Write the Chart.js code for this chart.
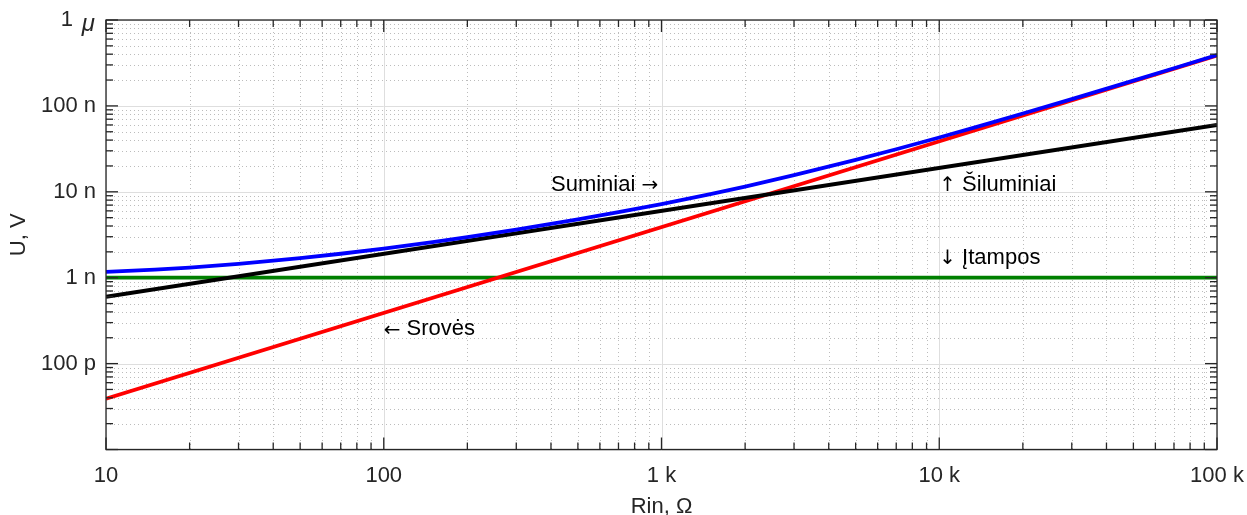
<!DOCTYPE html>
<html>
<head>
<meta charset="utf-8">
<script src="https://cdn.jsdelivr.net/npm/chart.js@4"></script>
<style>
  html, body { margin: 0; padding: 0; background: #fff; }
  #wrap { width: 1247px; height: 515px; }
</style>
</head>
<body>
<div id="wrap"><canvas id="noiseChart" width="1247" height="515"></canvas></div>
<script>
// Rin, Ω
const rinLine = [10, 100000];
const rinCurve = [10, 15, 20, 30, 50, 70, 100, 150, 200, 300, 500, 700,
    1000, 1500, 2000, 3000, 5000, 7000, 10000, 15000, 20000, 30000, 50000, 70000, 100000];

// U, V
const itampos = [1.0e-9, 1.0e-9];
const sroves = [3.9e-11, 3.85e-7];
const siluminiai = [6.0e-10, 6.0e-8];
const suminiai = [1.17e-9, 1.24e-9, 1.31e-9, 1.45e-9, 1.69e-9, 1.9e-9, 2.18e-9, 2.6e-9, 2.97e-9,
    3.63e-9, 4.77e-9, 5.79e-9, 7.2e-9, 9.41e-9, 1.15e-8, 1.56e-8, 2.35e-8, 3.13e-8, 4.29e-8,
    6.23e-8, 8.16e-8, 1.2e-7, 1.97e-7, 2.74e-7, 3.9e-7];

const xTickVals = [10, 100, 1000, 10000, 100000];
const xTickText = ['10', '100', '1 k', '10 k', '100 k'];
const yTickVals = [1e-6, 1e-7, 1e-8, 1e-9, 1e-10];
const yTickText = ['1', '100 n', '10 n', '1 n', '100 p'];

// label text plus an arrow drawn before or after it
const notes = [
    { x: 400, y: 1.2e-8, text: 'Suminiai', arrow: '\u2192', after: true },
    { x: 10000, y: 1.2e-8, text: '\u0160iluminiai', arrow: '\u2191', after: false },
    { x: 10000, y: 1.7e-9, text: '\u012Etampos', arrow: '\u2193', after: false },
    { x: 100, y: 2.5e-10, text: 'Srov\u0117s', arrow: '\u2190', after: false }
];

const FONT = '"Liberation Sans", Arial, sans-serif';
const ARROW_FONT = '"DejaVu Sans", sans-serif';
const INK = '#262626';

function toPoints(xs, ys) {
    return xs.map((x, i) => ({ x: x, y: ys[i] }));
}

function minorValues(lo, hi) {
    const out = [];
    for (let d = lo; d < hi; d *= 10) {
        for (let m = 2; m <= 9; m++) out.push(d * m);
    }
    return out;
}

const axesPlugin = {
    id: 'axesPlugin',
    beforeDatasetsDraw(chart) {
        const { ctx, chartArea: a, scales: { x, y } } = chart;
        ctx.save();
        // minor grid, dotted
        ctx.strokeStyle = '#bcbcbc';
        ctx.lineWidth = 1;
        ctx.setLineDash([1, 3]);
        minorValues(10, 100000).forEach(v => {
            const px = Math.round(x.getPixelForValue(v)) + 0.5;
            ctx.beginPath(); ctx.moveTo(px, a.top); ctx.lineTo(px, a.bottom); ctx.stroke();
        });
        minorValues(1e-11, 1e-6).forEach(v => {
            const py = Math.round(y.getPixelForValue(v)) + 0.5;
            ctx.beginPath(); ctx.moveTo(a.left, py); ctx.lineTo(a.right, py); ctx.stroke();
        });
        // major grid
        ctx.setLineDash([]);
        ctx.strokeStyle = '#dedede';
        xTickVals.forEach(v => {
            const px = Math.round(x.getPixelForValue(v)) + 0.5;
            ctx.beginPath(); ctx.moveTo(px, a.top); ctx.lineTo(px, a.bottom); ctx.stroke();
        });
        yTickVals.concat([1e-11]).forEach(v => {
            const py = Math.round(y.getPixelForValue(v)) + 0.5;
            ctx.beginPath(); ctx.moveTo(a.left, py); ctx.lineTo(a.right, py); ctx.stroke();
        });
        ctx.restore();
    },
    afterDatasetsDraw(chart) {
        const { ctx, chartArea: a, scales: { x, y } } = chart;
        ctx.save();
        // frame
        ctx.strokeStyle = INK;
        ctx.lineWidth = 1.3;
        ctx.strokeRect(a.left, a.top, a.right - a.left, a.bottom - a.top);

        // ticks pointing inwards on all four sides
        const tick = (x1, y1, x2, y2) => {
            ctx.beginPath(); ctx.moveTo(x1, y1); ctx.lineTo(x2, y2); ctx.stroke();
        };
        xTickVals.forEach(v => {
            const px = x.getPixelForValue(v);
            tick(px, a.bottom, px, a.bottom - 12);
            tick(px, a.top, px, a.top + 12);
        });
        minorValues(10, 100000).forEach(v => {
            const px = x.getPixelForValue(v);
            tick(px, a.bottom, px, a.bottom - 7);
            tick(px, a.top, px, a.top + 7);
        });
        yTickVals.concat([1e-11]).forEach(v => {
            const py = y.getPixelForValue(v);
            tick(a.left, py, a.left + 12, py);
            tick(a.right, py, a.right - 12, py);
        });
        minorValues(1e-11, 1e-6).forEach(v => {
            const py = y.getPixelForValue(v);
            tick(a.left, py, a.left + 7, py);
            tick(a.right, py, a.right - 7, py);
        });

        // tick labels
        ctx.fillStyle = INK;
        ctx.font = '22px ' + FONT;
        ctx.textBaseline = 'middle';
        ctx.textAlign = 'center';
        xTickVals.forEach((v, i) => {
            ctx.fillText(xTickText[i], x.getPixelForValue(v), a.bottom + 26);
        });
        ctx.textAlign = 'right';
        yTickVals.forEach((v, i) => {
            const py = y.getPixelForValue(v);
            if (v === 1e-6) {
                ctx.font = 'italic 24px ' + FONT;
                ctx.fillText('\u03BC', a.left - 11, py + 4);
                ctx.font = '22px ' + FONT;
                ctx.fillText(yTickText[i], a.left - 33, py);
            } else {
                ctx.fillText(yTickText[i], a.left - 10, py);
            }
        });

        // axis titles
        ctx.textAlign = 'center';
        ctx.fillText('Rin, \u03A9', x.getPixelForValue(1000), a.bottom + 57);
        ctx.save();
        ctx.translate(19, (a.top + a.bottom) / 2);
        ctx.rotate(-Math.PI / 2);
        ctx.fillText('U, V', 0, 0);
        ctx.restore();

        // curve annotations
        ctx.textAlign = 'left';
        ctx.fillStyle = '#000';
        notes.forEach(n => {
            let px = x.getPixelForValue(n.x);
            const py = y.getPixelForValue(n.y);
            const drawArrow = () => {
                ctx.font = '20px ' + ARROW_FONT;
                ctx.fillText(n.arrow, px, py + 1);
                px += ctx.measureText(n.arrow).width;
            };
            const drawText = s => {
                ctx.font = '22px ' + FONT;
                ctx.fillText(s, px, py);
                px += ctx.measureText(s).width;
            };
            if (n.after) {
                drawText(n.text + ' ');
                drawArrow();
            } else {
                drawArrow();
                drawText(' ' + n.text);
            }
        });
        ctx.restore();
    }
};

new Chart(document.getElementById('noiseChart'), {
    type: 'line',
    data: {
        datasets: [
            { label: 'Suminiai', data: toPoints(rinCurve, suminiai), borderColor: '#0000ff', order: 0 },
            { label: 'Šiluminiai', data: toPoints(rinLine, siluminiai), borderColor: '#000000', order: 1 },
            { label: 'Srovės', data: toPoints(rinLine, sroves), borderColor: '#ff0000', order: 2 },
            { label: 'Įtampos', data: toPoints(rinLine, itampos), borderColor: '#008000', order: 3 }
        ]
    },
    options: {
        responsive: false,
        animation: false,
        layout: { padding: { top: 20, right: 30, left: 0, bottom: 0 } },
        elements: {
            line: { borderWidth: 3.8, tension: 0, fill: false, borderCapStyle: 'butt' },
            point: { radius: 0, hoverRadius: 0 }
        },
        plugins: { legend: { display: false }, tooltip: { enabled: false } },
        scales: {
            x: {
                type: 'logarithmic', min: 10, max: 100000,
                ticks: { display: false }, grid: { display: false }, border: { display: false },
                afterFit: s => { s.height = 65.5; }
            },
            y: {
                type: 'logarithmic', min: 1e-11, max: 1e-6,
                ticks: { display: false }, grid: { display: false }, border: { display: false },
                afterFit: s => { s.width = 106; }
            }
        }
    },
    plugins: [axesPlugin]
});
</script>
</body>
</html>
